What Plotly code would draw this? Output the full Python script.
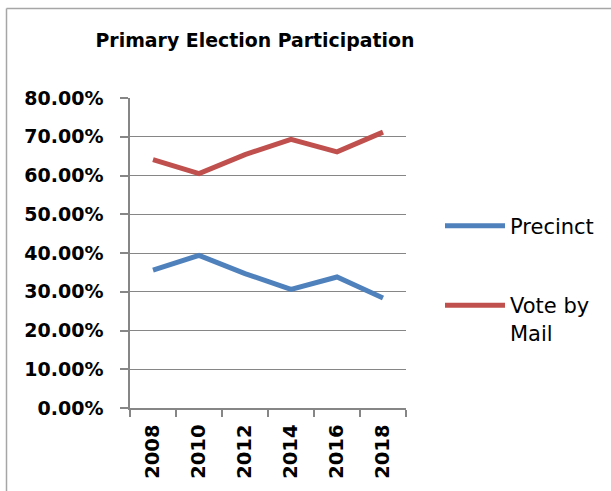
import plotly.graph_objects as go

years = ["2008", "2010", "2012", "2014", "2016", "2018"]
precinct = [0.356, 0.394, 0.347, 0.306, 0.338, 0.284]
vote_by_mail = [0.641, 0.605, 0.654, 0.693, 0.661, 0.712]
y_ticks = [0.0, 0.1, 0.2, 0.3, 0.4, 0.5, 0.6, 0.7, 0.8]

W, H = 611, 491
# plot area in screen pixels
X0, X1, Y0, Y1 = 130, 406, 98, 408
L, R, T, B = X0, W - X1, Y0, H - Y1
PW, PH = X1 - X0, Y1 - Y0

def px(x):
    return (x - X0) / PW

def py(y):
    return (Y1 - y) / PH

fig = go.Figure()
fig.add_trace(go.Scatter(x=years, y=precinct, mode="lines", name="Precinct",
                         line=dict(color="#4F81BD", width=5),
                         legend="legend", showlegend=True))
fig.add_trace(go.Scatter(x=years, y=vote_by_mail, mode="lines", name="Vote by<br>Mail",
                         line=dict(color="#C0504D", width=5),
                         legend="legend2", showlegend=True))

grid = "#868686"
fig.update_layout(
    width=W, height=H, showlegend=True,
    margin=dict(l=L, r=R, t=T, b=B, autoexpand=False),
    paper_bgcolor="white", plot_bgcolor="white",
    title=dict(text="<b>Primary Election Participation</b>",
               font=dict(family="DejaVu Sans", size=18.9, color="black"),
               x=px(255), xref="paper", xanchor="center",
               y=1 - 40 / H, yref="container", yanchor="middle"),
    xaxis=dict(type="category", range=[-0.5, 5.5], tickson="boundaries",
               ticks="outside", ticklen=7, tickwidth=1.5, tickcolor=grid,
               showline=True, linecolor=grid, linewidth=1.5,
               showgrid=False, tickangle=-90,
               tickfont=dict(family="DejaVu Sans", size=19.5, color="black", weight="bold"),
               ticklabelstandoff=7, fixedrange=True),
    yaxis=dict(range=[0, 0.8], tickvals=y_ticks, tickformat=".2%",
               ticks="outside", ticklen=8, tickwidth=1.5, tickcolor=grid,
               showline=True, linecolor=grid, linewidth=1.5,
               showgrid=True, gridcolor=grid, gridwidth=1.2, zeroline=False,
               tickfont=dict(family="DejaVu Sans", size=19, color="black", weight="bold"),
               ticklabelstandoff=13, fixedrange=True),
    legend=dict(x=px(440), y=py(226), xanchor="left", yanchor="middle",
                font=dict(family="DejaVu Sans", size=21, color="black"),
                itemwidth=60, bgcolor="rgba(0,0,0,0)"),
    legend2=dict(x=px(440), y=py(285), xanchor="left", yanchor="top",
                 font=dict(family="DejaVu Sans", size=21, color="black"),
                 itemwidth=60, valign="top", bgcolor="rgba(0,0,0,0)"),
    shapes=[
        dict(type="line", xref="paper", yref="paper", x0=px(6.5), x1=px(6.5),
             y0=py(8.5), y1=py(520), line=dict(color="#A6A6A6", width=1.5)),
        dict(type="line", xref="paper", yref="paper", x0=px(6.5), x1=px(640),
             y0=py(8.5), y1=py(8.5), line=dict(color="#A6A6A6", width=1.5)),
    ],
)

fig.write_html("out.html",
               config={"displayModeBar": False},
               post_script="document.body.style.margin='0';document.body.style.overflow='hidden';")
